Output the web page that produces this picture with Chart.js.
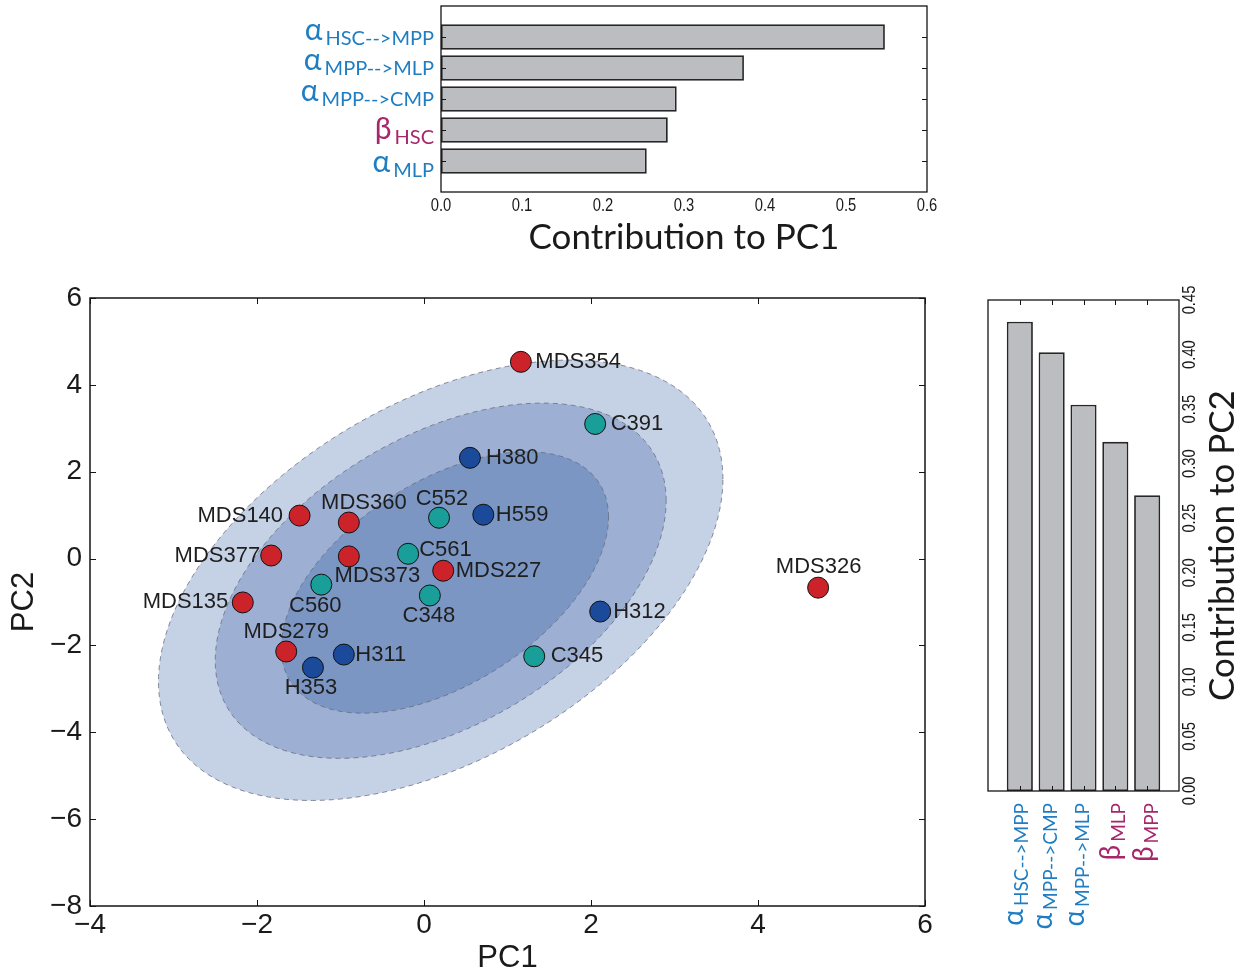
<!DOCTYPE html>
<html>
<head>
<meta charset="utf-8">
<script src="https://cdn.jsdelivr.net/npm/chart.js@4.4.0/dist/chart.umd.min.js"></script>
<style>
  html, body { margin: 0; padding: 0; background: #ffffff; }
  #figure { position: relative; width: 1246px; height: 975px; overflow: hidden; }
  #figure canvas { position: absolute; left: 0; top: 0; }
</style>
</head>
<body>
<div id="figure">
  <canvas id="pc1Loadings" width="1246" height="975"></canvas>
  <canvas id="pcaScores" width="1246" height="975"></canvas>
  <canvas id="pc2Loadings" width="1246" height="975"></canvas>
</div>
<script>
// ---------- data ----------
// PCA scores of each sample
const sampleNames = ['MDS354', 'C391', 'H380', 'C552', 'H559', 'MDS140', 'MDS360', 'MDS377', 'MDS373', 'C561',
                     'MDS227', 'C560', 'C348', 'MDS135', 'H312', 'MDS326', 'MDS279', 'H311', 'H353', 'C345'];
const sampleGroup = ['MDS', 'C', 'H', 'C', 'H', 'MDS', 'MDS', 'MDS', 'MDS', 'C',
                     'MDS', 'C', 'C', 'MDS', 'H', 'MDS', 'MDS', 'H', 'H', 'C'];
const pc1Scores = [1.16, 2.05, 0.55, 0.18, 0.71, -1.49, -0.90, -1.83, -0.90, -0.19,
                   0.23, -1.23, 0.07, -2.17, 2.11, 4.72, -1.65, -0.96, -1.33, 1.32];
const pc2Scores = [4.53, 3.10, 2.32, 0.94, 1.01, 0.99, 0.83, 0.07, 0.05, 0.11,
                   -0.28, -0.60, -0.85, -1.01, -1.22, -0.67, -2.14, -2.21, -2.51, -2.25];

// nested confidence regions (outer to inner) in score units
const regionCenterX = [0.20, 0.20, 0.25];
const regionCenterY = [-0.50, -0.51, -0.55];
const regionHalfWidth = [3.38, 2.70, 1.96];
const regionHalfHeight = [5.07, 4.09, 3.01];
const regionCorrelation = [0.46, 0.45, 0.50];

// loadings on PC1
const pc1Symbols = ['α', 'α', 'α', 'β', 'α'];
const pc1Subscripts = ['HSC-->MPP', 'MPP-->MLP', 'MPP-->CMP', 'HSC', 'MLP'];
const pc1Contribution = [0.548, 0.374, 0.291, 0.280, 0.254];

// loadings on PC2
const pc2Symbols = ['α', 'α', 'α', 'β', 'β'];
const pc2Subscripts = ['HSC-->MPP', 'MPP-->CMP', 'MPP-->MLP', 'MLP', 'MPP'];
const pc2Contribution = [0.430, 0.402, 0.354, 0.320, 0.271];

// tick values
const scoreTicksX = [-4, -2, 0, 2, 4, 6];
const scoreTicksY = [-8, -6, -4, -2, 0, 2, 4, 6];
const pc1AxisTicks = [0, 0.1, 0.2, 0.3, 0.4, 0.5, 0.6];
const pc2AxisTicks = [0, 0.05, 0.10, 0.15, 0.20, 0.25, 0.30, 0.35, 0.40, 0.45];
const barSlots = [-1, 0, 1, 2, 3, 4, 5];

// ---------- styling ----------
const SANS = '"Liberation Sans", Arial, Helvetica, sans-serif';
const HUMANIST = 'Lato, "Open Sans", sans-serif';
const ALPHA_BLUE = '#1f7ec3';
const BETA_MAGENTA = '#a6276b';
const BAR_FILL = '#bcbdc1';
const BAR_EDGE = '#262626';
const groupColors = { MDS: '#cc2229', C: '#1a9e99', H: '#1c4a9b' };
const regionFills = ['#c5d2e6', '#9db0d3', '#7b96c3'];

// label placement around each marker (px): dx, dy
const labelDx = [14.5, 15.5, 16, 3, 12.5, -16.5, 15, -11, 28.5, 11, 12.5, -6, -1, -14.5, 13, 0.5, 0, 11.5, -2, 16.5];
const labelDy = [0, 0, 0, -18.5, 0, 0, -19.5, 0, 19.5, -3.5, 0, 21, 20.5, 0, 0, -20.5, -19.5, 0, 20.5, 0];
// vertical shift of the parameter names beside each bar
const pc1LabelDrop = [1, 0, 0, 7, 8.5];
const pc2LabelShift = [8, 5, 5, 10, 11];

Chart.defaults.font.family = SANS;
Chart.defaults.color = '#1a1a1a';

const minusSign = v => String(v).replace('-', '\u2212');
const setTicks = list => scale => { scale.ticks = list.map(v => ({ value: v })); };

// frame around the plot area with inward tick marks
function framePlugin(marks, lineWidth) {
  return {
    id: 'frame',
    afterDatasetsDraw(chart) {
      const { ctx, chartArea: a } = chart;
      ctx.save();
      ctx.strokeStyle = '#151515';
      ctx.lineWidth = lineWidth;
      ctx.strokeRect(a.left, a.top, a.right - a.left, a.bottom - a.top);
      ctx.lineWidth = 1;
      marks.forEach(m => {
        const scale = chart.scales[m.axis];
        m.values.forEach(v => {
          const p = Math.round(scale.getPixelForValue(v)) + 0.5;
          ctx.beginPath();
          if (m.axis === 'x') {
            ctx.moveTo(p, a.top); ctx.lineTo(p, a.top + m.len);
            ctx.moveTo(p, a.bottom); ctx.lineTo(p, a.bottom - m.len);
          } else {
            ctx.moveTo(a.left, p); ctx.lineTo(a.left + m.len, p);
            ctx.moveTo(a.right, p); ctx.lineTo(a.right - m.len, p);
          }
          ctx.stroke();
        });
      });
      ctx.restore();
    }
  };
}

// parameter name with subscript, right-aligned at the origin (origin = subscript baseline)
function drawParamLabel(ctx, sym, sub, symSize, subSize) {
  ctx.textAlign = 'right';
  ctx.textBaseline = 'alphabetic';
  ctx.fillStyle = sym === 'β' ? BETA_MAGENTA : ALPHA_BLUE;
  ctx.font = `${subSize}px ${HUMANIST}`;
  const ws = ctx.measureText(sub).width;
  ctx.fillText(sub, 0, 0);
  ctx.font = `${symSize}px ${HUMANIST}`;
  ctx.fillText(sym, -ws - 3, -5);
}

// narrow tick text: drawn with a horizontal squeeze
function drawNarrowText(ctx, text, x, y, rotation, squeeze) {
  ctx.save();
  ctx.translate(x, y);
  ctx.rotate(rotation);
  ctx.scale(squeeze, 1);
  ctx.fillText(text, 0, 0);
  ctx.restore();
}

// ---------- PC1 loadings (top) ----------
new Chart(document.getElementById('pc1Loadings'), {
  type: 'bar',
  data: {
    datasets: [{
      data: pc1Contribution.map((v, i) => ({ x: v, y: i })),
      backgroundColor: BAR_FILL,
      borderColor: BAR_EDGE,
      borderWidth: 1.8,
      borderSkipped: false,
      barPercentage: 1,
      categoryPercentage: 0.82
    }]
  },
  options: {
    indexAxis: 'y',
    responsive: false,
    animation: false,
    events: [],
    layout: { padding: { left: 0, top: 6, right: 319, bottom: 715 } },
    plugins: { legend: { display: false }, tooltip: { enabled: false } },
    scales: {
      y: {
        type: 'linear', min: -1, max: 5, reverse: true, offset: false,
        afterBuildTicks: setTicks(barSlots),
        ticks: { display: false },
        grid: { display: false, drawTicks: false },
        border: { display: false },
        afterFit: s => { s.width = 441; }
      },
      x: {
        type: 'linear', min: 0, max: 0.6,
        afterBuildTicks: setTicks(pc1AxisTicks),
        ticks: { display: false },
        grid: { display: false, drawTicks: false },
        border: { display: false },
        title: {
          display: true, text: 'Contribution to PC1', color: '#1a1a1a',
          font: { family: HUMANIST, size: 35, lineHeight: 1 },
          padding: { top: 0, bottom: 5 }
        },
        afterFit: s => { s.height = 68; }
      }
    }
  },
  plugins: [
    framePlugin([{ axis: 'y', values: [0, 1, 2, 3, 4], len: 5 }], 1.3),
    {
      id: 'pc1Text',
      afterDraw(chart) {
        const { ctx, chartArea: a, scales: { x, y } } = chart;
        pc1Subscripts.forEach((sub, i) => {
          ctx.save();
          ctx.translate(a.left - 7, y.getPixelForValue(i) + 7 + pc1LabelDrop[i]);
          drawParamLabel(ctx, pc1Symbols[i], sub, 30, 20);
          ctx.restore();
        });
        ctx.save();
        ctx.fillStyle = '#1a1a1a';
        ctx.font = `18px ${SANS}`;
        ctx.textAlign = 'center';
        ctx.textBaseline = 'middle';
        x.ticks.forEach(t => drawNarrowText(ctx, t.value.toFixed(1), x.getPixelForValue(t.value), a.bottom + 14, 0, 0.82));
        ctx.restore();
      }
    }
  ]
});

// ---------- PCA scores (main) ----------
const groupOrder = ['MDS', 'C', 'H'];
const regionPlugin = {
  id: 'confidenceRegions',
  beforeDatasetsDraw(chart) {
    const { ctx, chartArea: a, scales: { x, y } } = chart;
    ctx.save();
    ctx.beginPath();
    ctx.rect(a.left, a.top, a.right - a.left, a.bottom - a.top);
    ctx.clip();
    for (let k = 0; k < regionHalfWidth.length; k++) {
      const r = regionCorrelation[k];
      const s = Math.sqrt(1 - r * r);
      ctx.beginPath();
      for (let j = 0; j <= 240; j++) {
        const t = (j / 240) * 2 * Math.PI;
        const px = x.getPixelForValue(regionCenterX[k] + regionHalfWidth[k] * Math.cos(t));
        const py = y.getPixelForValue(regionCenterY[k] + regionHalfHeight[k] * (r * Math.cos(t) + s * Math.sin(t)));
        if (j === 0) ctx.moveTo(px, py); else ctx.lineTo(px, py);
      }
      ctx.closePath();
      ctx.fillStyle = regionFills[k];
      ctx.fill();
      ctx.setLineDash([5, 4]);
      ctx.strokeStyle = 'rgba(100,104,122,0.75)';
      ctx.lineWidth = 1;
      ctx.stroke();
      ctx.setLineDash([]);
    }
    ctx.restore();
  }
};

const sampleLabelPlugin = {
  id: 'sampleLabels',
  afterDatasetsDraw(chart) {
    const { ctx } = chart;
    ctx.save();
    ctx.font = `22px ${SANS}`;
    ctx.fillStyle = '#1e1e1e';
    ctx.textBaseline = 'middle';
    chart.data.datasets.forEach((ds, d) => {
      const meta = chart.getDatasetMeta(d);
      meta.data.forEach((pt, j) => {
        const i = ds.data[j].idx;
        const dx = labelDx[i], dy = labelDy[i];
        ctx.textAlign = Math.abs(dy) > 10 ? 'center' : (dx > 0 ? 'left' : 'right');
        ctx.fillText(sampleNames[i], pt.x + dx, pt.y + dy);
      });
    });
    ctx.restore();
  }
};

new Chart(document.getElementById('pcaScores'), {
  type: 'scatter',
  data: {
    datasets: groupOrder.map(g => ({
      label: g,
      data: sampleNames.map((n, i) => ({ x: pc1Scores[i], y: pc2Scores[i], idx: i })).filter(p => sampleGroup[p.idx] === g),
      backgroundColor: groupColors[g],
      borderColor: '#111111',
      borderWidth: 1,
      pointRadius: 10.5
    }))
  },
  options: {
    responsive: false,
    animation: false,
    events: [],
    layout: { padding: { left: 0, top: 298, right: 321, bottom: 0 } },
    plugins: { legend: { display: false }, tooltip: { enabled: false } },
    scales: {
      x: {
        type: 'linear', min: -4, max: 6,
        afterBuildTicks: setTicks(scoreTicksX),
        ticks: { callback: minusSign, padding: 2, font: { size: 28 }, color: '#1a1a1a' },
        grid: { display: false, drawTicks: false },
        border: { display: false },
        title: { display: true, text: 'PC1', color: '#1a1a1a', font: { size: 31, lineHeight: 1 }, padding: { top: 0, bottom: 1 } },
        afterFit: s => { s.height = 69; }
      },
      y: {
        type: 'linear', min: -8, max: 6,
        afterBuildTicks: setTicks(scoreTicksY),
        ticks: { callback: minusSign, padding: 8, font: { size: 28 }, color: '#1a1a1a' },
        grid: { display: false, drawTicks: false },
        border: { display: false },
        title: { display: true, text: 'PC2', color: '#1a1a1a', font: { size: 31, lineHeight: 1 }, padding: { top: 9, bottom: 0 } },
        afterFit: s => { s.width = 90; }
      }
    }
  },
  plugins: [
    regionPlugin,
    sampleLabelPlugin,
    framePlugin([{ axis: 'x', values: scoreTicksX, len: 6 }, { axis: 'y', values: scoreTicksY, len: 6 }], 1.5)
  ]
});

// ---------- PC2 loadings (right) ----------
new Chart(document.getElementById('pc2Loadings'), {
  type: 'bar',
  data: {
    datasets: [{
      data: pc2Contribution.map((v, i) => ({ x: i, y: v })),
      backgroundColor: BAR_FILL,
      borderColor: BAR_EDGE,
      borderWidth: 1.8,
      borderSkipped: false,
      barPercentage: 1,
      categoryPercentage: 0.82
    }]
  },
  options: {
    responsive: false,
    animation: false,
    events: [],
    layout: { padding: { left: 988, top: 300, right: 0, bottom: 0 } },
    plugins: { legend: { display: false }, tooltip: { enabled: false } },
    scales: {
      x: {
        type: 'linear', min: -1, max: 5, offset: false,
        afterBuildTicks: setTicks(barSlots),
        ticks: { display: false },
        grid: { display: false, drawTicks: false },
        border: { display: false },
        afterFit: s => { s.height = 184; }
      },
      y: {
        type: 'linear', position: 'right', min: 0, max: 0.45,
        afterBuildTicks: setTicks(pc2AxisTicks),
        ticks: { display: false },
        grid: { display: false, drawTicks: false },
        border: { display: false },
        afterFit: s => { s.width = 67; }
      }
    }
  },
  plugins: [
    framePlugin([{ axis: 'x', values: [0, 1, 2, 3, 4], len: 5 }], 1.3),
    {
      id: 'pc2Text',
      afterDraw(chart) {
        const { ctx, chartArea: a, scales: { x, y } } = chart;
        // parameter names under the bars, reading upward
        pc2Subscripts.forEach((sub, i) => {
          ctx.save();
          ctx.translate(x.getPixelForValue(i) + pc2LabelShift[i], a.bottom + 12);
          ctx.rotate(-Math.PI / 2);
          drawParamLabel(ctx, pc2Symbols[i], sub, 28, 19);
          ctx.restore();
        });
        // value axis labels on the right, reading upward
        ctx.save();
        ctx.fillStyle = '#1a1a1a';
        ctx.font = `18px ${SANS}`;
        ctx.textAlign = 'center';
        ctx.textBaseline = 'middle';
        y.ticks.forEach(t => drawNarrowText(ctx, t.value.toFixed(2), a.right + 11, y.getPixelForValue(t.value), -Math.PI / 2, 0.82));
        // axis title
        ctx.font = `35px ${HUMANIST}`;
        ctx.translate(a.right + 44, (a.top + a.bottom) / 2);
        ctx.rotate(-Math.PI / 2);
        ctx.fillText('Contribution to PC2', 0, 0);
        ctx.restore();
      }
    }
  ]
});
</script>
</body>
</html>
